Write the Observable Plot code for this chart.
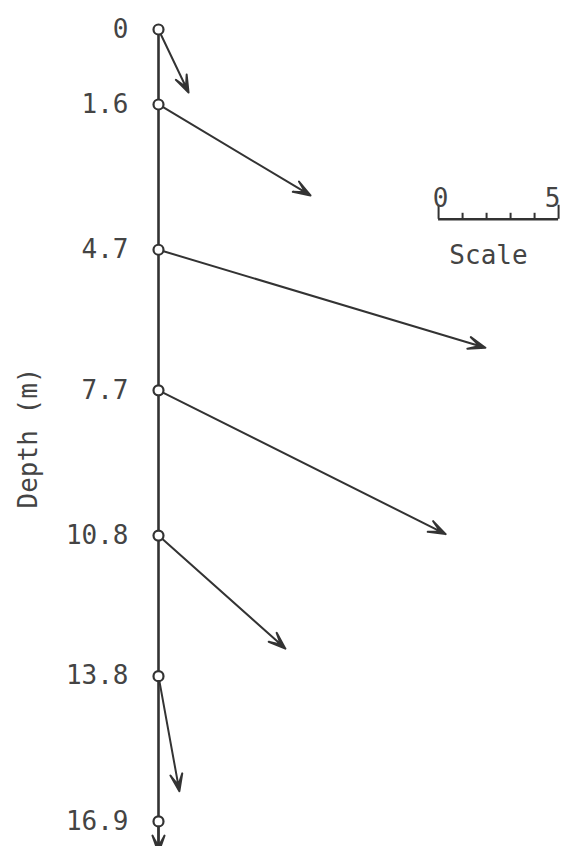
<!DOCTYPE html>
<html>
<head>
<meta charset="utf-8">
<script src="https://cdn.jsdelivr.net/npm/d3@7"></script>
<script src="https://cdn.jsdelivr.net/npm/@observablehq/plot@0.6"></script>
<style>
  html, body { margin: 0; padding: 0; background: #fff; }
  #chart { width: 562px; height: 846px; overflow: hidden; }
</style>
</head>
<body>
<div id="chart"></div>
<script>
// Measurement depths (m) and current vectors (speed in scale units, direction in degrees clockwise from up)
const depths = [0, 1.6, 4.7, 7.7, 10.8, 13.8, 16.9];
const speeds = [2.91, 7.38, 14.22, 13.38, 7.08, 4.87, 1.3];
const directions = [154.5, 120.9, 106.7, 116.6, 131.7, 169.7, 180];
const depthTicks = [0, 1.6, 4.7, 7.7, 10.8, 13.8, 16.9];
const scaleTicks = [0, 1, 2, 3, 4, 5];
const scaleLabels = ["0", "5"];

const data = depths.map((d, i) => ({depth: d, speed: speeds[i], dir: directions[i]}));

const ink = "#333";
const textInk = "#444";
const font = "DejaVu Sans Mono";
const pxPerUnit = 24;          // length of one scale unit in pixels
const width = 562, height = 846;
const marginLeft = 158, marginTop = 29;
const yMax = 17.435;
const pxPerM = (height - marginTop) / yMax;

// scale bar placement (x in vector units, y in depth coordinates)
const sbX0 = 11.67;
const sbY = 4.05;
const sbLabelY = 3.62;
const sbTitleY = 4.82;

// harpoon-style arrow: shaft plus narrow barbed head
const harpoon = {
  draw(context, l) {
    const h = 17, w = 6, n = 6;
    context.moveTo(0, 0);
    context.lineTo(0, -l);
    context.moveTo(0, -l);
    context.lineTo(-w, h - l);
    context.lineTo(0, n - l);
    context.lineTo(w, h - l);
    context.closePath();
  }
};

const plot = Plot.plot({
  width, height,
  marginLeft, marginTop, marginRight: 0, marginBottom: 0,
  style: {fontFamily: font, fontSize: "26px", color: ink, background: "#fff"},
  x: {domain: [0, (width - marginLeft) / pxPerUnit], axis: null},
  y: {domain: [0, yMax], reverse: true, axis: null},
  length: {type: "linear", domain: [0, 5], range: [0, 5 * pxPerUnit]},
  marks: [
    Plot.axisY(depthTicks, {
      anchor: "left", tickSize: 0, tickPadding: 30, tickFormat: d => String(d),
      fontSize: 26, fill: textInk,
      label: "Depth (m)", labelAnchor: "center", labelOffset: 140, labelArrow: "none"
    }),
    Plot.ruleX([0], {y1: 0, y2: yMax, stroke: ink, strokeWidth: 2.6}),
    Plot.vector(data, {
      x: () => 0, y: "depth", length: "speed", rotate: "dir",
      anchor: "start", shape: harpoon, stroke: ink, fill: ink, strokeWidth: 2,
      strokeLinejoin: "round", strokeLinecap: "round"
    }),
    Plot.dot(data, {x: () => 0, y: "depth", r: 5, fill: "#fff", stroke: ink, strokeWidth: 2.2}),
    // scale bar
    Plot.ruleY([sbY], {x1: sbX0, x2: sbX0 + 5, stroke: ink, strokeWidth: 2.4}),
    Plot.ruleX(scaleTicks, {
      x: d => sbX0 + d, y1: sbY,
      y2: d => sbY - ((d === 0 || d === 5) ? 14 : 6) / pxPerM,
      stroke: ink, strokeWidth: 2
    }),
    Plot.text(scaleLabels, {
      x: d => sbX0 + (d === "0" ? 0.08 : 4.75), y: () => sbLabelY, text: d => d,
      fontSize: 26, fill: textInk
    }),
    Plot.text(["Scale"], {
      x: () => sbX0 + 2.08, y: () => sbTitleY, text: d => d,
      fontSize: 26, fill: textInk
    })
  ]
});
// fill the arrowheads (the closed barb sub-path) with the ink colour
d3.select(plot).selectAll('g[aria-label="vector"], g[aria-label="vector"] path').attr("fill", ink);
document.getElementById("chart").append(plot);
</script>
</body>
</html>
